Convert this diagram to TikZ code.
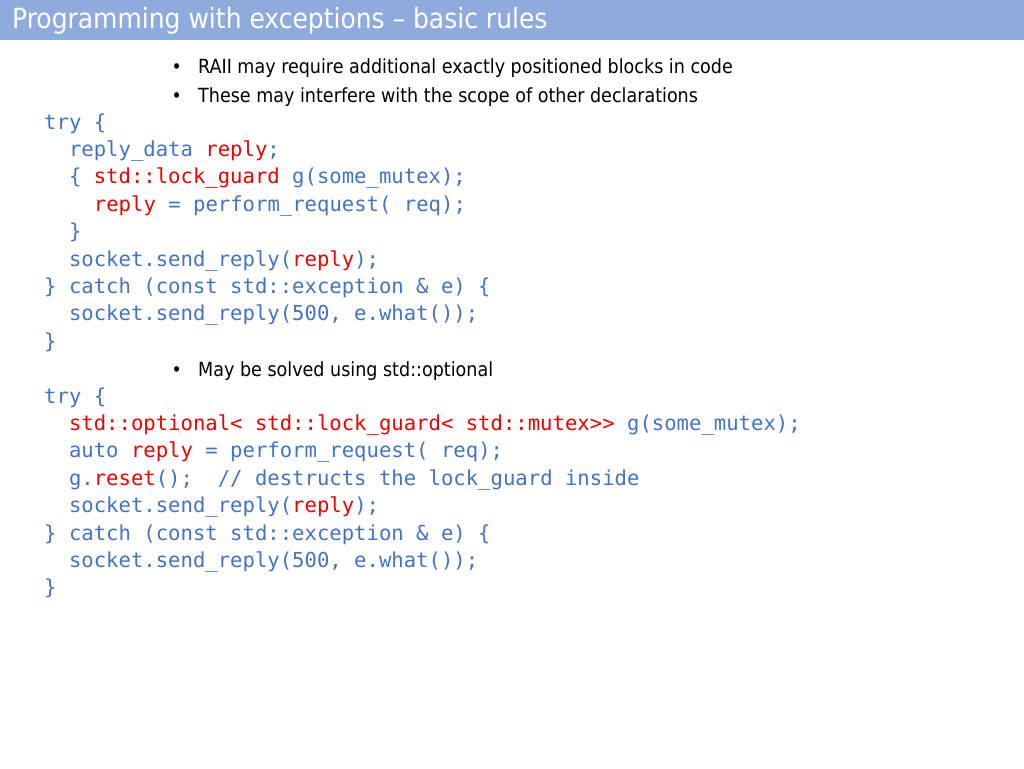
\documentclass[tikz,border=0pt]{standalone}
\usepackage{fontspec}
\setmainfont{DejaVu Sans Condensed}
\setmonofont{DejaVu Sans Mono}
\newfontfamily\titlefont{DejaVu Sans Condensed}
\usetikzlibrary{positioning}
\definecolor{titlebar}{RGB}{143,170,220}
\definecolor{codeblue}{RGB}{68,114,196}
\definecolor{codered}{RGB}{235,0,0}
\newcommand{\rd}[1]{\textcolor{codered}{#1}}
\tikzset{
    codeline/.style={anchor=base west,inner sep=0pt,font=\ttfamily\fontsize{20.6}{24}\selectfont,text=codeblue},
    bulletline/.style={anchor=base west,inner sep=0pt,font=\fontsize{19.5}{23}\selectfont,text=black}
}

\begin{document}
\begin{tikzpicture}[x=1pt,y=-1pt]
    \useasboundingbox (0,0) rectangle (1024,768);
    % Title bar
    \fill[titlebar] (0,0) rectangle (1024,40);
    \node[anchor=base west,inner sep=0pt,text=white,font=\titlefont\fontsize{27.8}{30}\selectfont] (title) at (12,29) {Programming with exceptions – basic rules};

    % Bullets
    \node[bulletline] (b1) at (198,74) {RAII may require additional exactly positioned blocks in code};
    \node[bulletline] (b2) at (198,102) {These may interfere with the scope of other declarations};
    \node[bulletline] (b3) at (198,376) {May be solved using std::optional};
    \foreach \n in {b1,b2,b3} {
        \node[anchor=base east,inner sep=0pt,font=\fontsize{19}{20}\selectfont] at ([xshift=-16pt]\n.base west) {\textbullet};
    }

    % First code block
    \node[codeline] (c1) at (44,129) {try \{};
    \node[codeline] (c2) at (68.8,156.4) {reply\_data \rd{reply};};
    \node[codeline] (c3) at (68.8,183.8) {\{ \rd{std::lock\_guard} g(some\_mutex);};
    \node[codeline] (c4) at (93.7,211.2) {\rd{reply} = perform\_request( req);};
    \node[codeline] (c5) at (68.8,238.6) {\}};
    \node[codeline] (c6) at (68.8,266) {socket.send\_reply(\rd{reply});};
    \node[codeline] (c7) at (44,293.4) {\} catch (const std::exception \& e) \{};
    \node[codeline] (c8) at (68.8,320.8) {socket.send\_reply(500, e.what());};
    \node[codeline] (c9) at (44,348.2) {\}};

    % Second code block
    \node[codeline] (d1) at (44,403) {try \{};
    \node[codeline] (d2) at (68.8,430.4) {\rd{std::optional< std::lock\_guard< std::mutex>>} g(some\_mutex);};
    \node[codeline] (d3) at (68.8,457.8) {auto \rd{reply} = perform\_request( req);};
    \node[codeline] (d4) at (68.8,485.2) {g.\rd{reset}();\ \ // destructs the lock\_guard inside};
    \node[codeline] (d5) at (68.8,512.6) {socket.send\_reply(\rd{reply});};
    \node[codeline] (d6) at (44,540) {\} catch (const std::exception \& e) \{};
    \node[codeline] (d7) at (68.8,567.4) {socket.send\_reply(500, e.what());};
    \node[codeline] (d8) at (44,594.8) {\}};
\end{tikzpicture}
\end{document}
